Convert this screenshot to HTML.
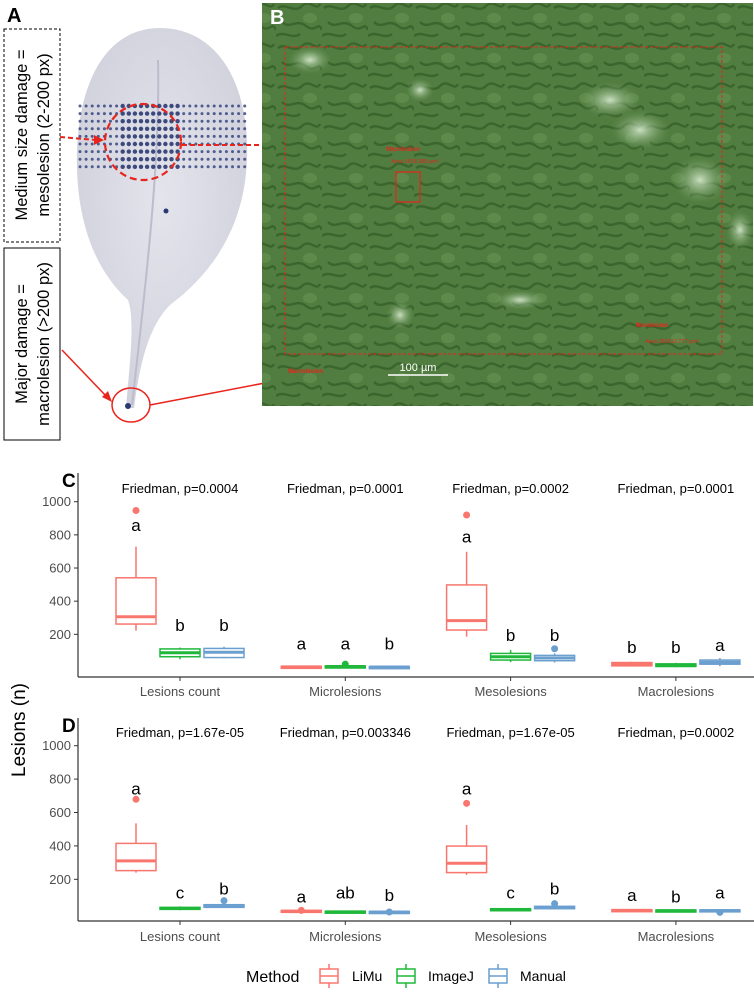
<!DOCTYPE html>
<html><head><meta charset="utf-8">
<style>
html,body{margin:0;padding:0;background:#fff;}
body{width:754px;height:992px;overflow:hidden;font-family:"Liberation Sans",sans-serif;}
svg text{font-family:"Liberation Sans",sans-serif;}
</style></head>
<body>
<svg id="fig" width="754" height="992" viewBox="0 0 754 992" xmlns="http://www.w3.org/2000/svg">
<defs>
  <radialGradient id="leafg" cx="0.5" cy="0.45" r="0.6">
    <stop offset="0" stop-color="#e4e4ec"/><stop offset="1" stop-color="#d0d0dc"/>
  </radialGradient>
  <radialGradient id="hl" cx="0.5" cy="0.5" r="0.5">
    <stop offset="0" stop-color="#d8ead0" stop-opacity="0.9"/><stop offset="1" stop-color="#6e9a5c" stop-opacity="0"/>
  </radialGradient>
  <pattern id="cells" width="46" height="40" patternUnits="userSpaceOnUse">
    <rect width="46" height="40" fill="#557f43"/>
    <path d="M2 8 C10 2,18 14,26 6 S40 12,44 4 M6 22 C14 30,20 18,30 26 S42 20,46 30 M0 36 C8 30,16 40,24 34" stroke="#28501f" stroke-width="2.4" fill="none" opacity="0.85"/>
    <ellipse cx="34" cy="18" rx="7" ry="5" fill="#7aa566" opacity="0.6"/>
  </pattern>
</defs>

<!-- Panel A -->
<g>
  <text x="7" y="22" font-size="20" font-weight="bold">A</text>
  <path d="M160 28 C215 28 250 80 247 160 C244 230 210 275 170 305 C150 325 140 360 134 408 L126 408 C130 360 135 320 128 300 C95 270 75 220 77 150 C80 75 110 28 160 28 Z" fill="url(#leafg)"/>
  <path d="M158 60 C160 150 150 250 132 405" stroke="#bcbccc" stroke-width="2" fill="none"/>
  <g id="dots"></g>
  <circle cx="166" cy="211" r="2.5" fill="#2a3a70"/>
  <circle cx="128" cy="406" r="3" fill="#2a3a70"/>
  <circle cx="143" cy="142" r="38" fill="none" stroke="#e8241c" stroke-width="2.2" stroke-dasharray="7,4"/>
  <ellipse cx="131" cy="405" rx="19" ry="17" fill="none" stroke="#e8241c" stroke-width="1.5"/>
  <rect x="4" y="29" width="56" height="213" fill="#fff" stroke="#000" stroke-width="1" stroke-dasharray="3,2"/>
  <text transform="translate(27,135) rotate(-90)" text-anchor="middle" font-size="16.5">Medium size damage =</text>
  <text transform="translate(49,135) rotate(-90)" text-anchor="middle" font-size="16.5">mesolesion (2-200 px)</text>
  <rect x="4" y="248" width="56" height="192" fill="#fff" stroke="#000" stroke-width="1"/>
  <text transform="translate(27,344) rotate(-90)" text-anchor="middle" font-size="16.5">Major damage =</text>
  <text transform="translate(49,344) rotate(-90)" text-anchor="middle" font-size="16.5">macrolesion (&gt;200 px)</text>
  <line x1="60" y1="137" x2="96" y2="140" stroke="#e8241c" stroke-width="2" stroke-dasharray="5,3"/>
  <polygon points="104,140 94,135 94,145" fill="#e8241c"/>
  <line x1="182" y1="145" x2="305" y2="145" stroke="#e8241c" stroke-width="2" stroke-dasharray="5,3"/>
  <polygon points="315,145 304,140 304,150" fill="#e8241c"/>
  <line x1="62" y1="350" x2="107" y2="397" stroke="#e8241c" stroke-width="1.5"/>
  <polygon points="112,402 102,397 108,391" fill="#e8241c"/>
  <line x1="150" y1="405" x2="270" y2="382" stroke="#e8241c" stroke-width="1.5"/>
  <polygon points="279,380 268,377 270,387" fill="#e8241c"/>
</g>

<!-- Panel B -->
<g>
  <rect x="262" y="3" width="491" height="403" fill="url(#cells)"/>
  <rect x="262" y="3" width="491" height="403" fill="#4a7a3b" opacity="0.4"/>
  <ellipse cx="310" cy="60" rx="22" ry="14" fill="url(#hl)"/>
  <ellipse cx="420" cy="90" rx="14" ry="12" fill="url(#hl)"/>
  <ellipse cx="640" cy="130" rx="30" ry="20" fill="url(#hl)"/>
  <ellipse cx="700" cy="180" rx="28" ry="24" fill="url(#hl)"/>
  <ellipse cx="520" cy="300" rx="26" ry="10" fill="url(#hl)"/>
  <ellipse cx="400" cy="315" rx="14" ry="14" fill="url(#hl)"/>
  <ellipse cx="610" cy="100" rx="30" ry="18" fill="url(#hl)"/>
  <ellipse cx="740" cy="230" rx="14" ry="20" fill="url(#hl)"/>
  <text x="270" y="24" font-size="20" font-weight="bold" fill="#fff">B</text>
  <rect x="285" y="47" width="437" height="307" fill="none" stroke="#e8241c" stroke-width="1" stroke-dasharray="3,2"/>
  <rect x="396" y="172" width="24" height="30" fill="none" stroke="#e8241c" stroke-width="1.2"/>
  <text x="403" y="151" font-size="6" font-weight="bold" fill="#e8241c" text-anchor="middle">Microlesion</text>
  <text x="415" y="163" font-size="5.5" fill="#e8241c" text-anchor="middle">Area 1818.389 µm²</text>
  <text x="652" y="327" font-size="6" font-weight="bold" fill="#e8241c" text-anchor="middle">Mesolesion</text>
  <text x="672" y="343" font-size="5.5" fill="#e8241c" text-anchor="middle">Area 360612.777 µm²</text>
  <text x="288" y="373" font-size="6" font-weight="bold" fill="#e8241c">Macrolesion</text>
  <line x1="388" y1="375" x2="448" y2="375" stroke="#fff" stroke-width="1.5"/>
  <text x="418" y="371" font-size="11" fill="#fff" text-anchor="middle">100 µm</text>
</g>

<g id="charts"></g>

<text transform="translate(25,730) rotate(-90)" text-anchor="middle" font-size="19">Lesions (n)</text>

<g id="legend">
  <text x="246" y="982" font-size="16">Method</text>
</g>
</svg>

<script>
// ---- data ----
const categories = ["Lesions count", "Microlesions", "Mesolesions", "Macrolesions"];
const methods = ["LiMu", "ImageJ", "Manual"];
const colors = ["#f8766d", "#1fb83a", "#6a9fcf"];
const yTicks = [200, 400, 600, 800, 1000];
const pvalsC = ["Friedman, p=0.0004", "Friedman, p=0.0001", "Friedman, p=0.0002", "Friedman, p=0.0001"];
const pvalsD = ["Friedman, p=1.67e-05", "Friedman, p=0.003346", "Friedman, p=1.67e-05", "Friedman, p=0.0002"];
// box stats [lo, q1, median, q3, hi], order: category x method
const boxesC = [
  [222, 262, 306, 541, 729], [50, 65, 89, 112, 120], [55, 60, 92, 115, 125],
  [0, 2, 4, 7, 10], [0, 3, 6, 9, 14], [0, 1, 3, 5, 8],
  [186, 226, 283, 498, 698], [33, 45, 65, 85, 105], [30, 41, 57, 73, 85],
  [5, 10, 20, 30, 35], [2, 6, 15, 22, 28], [8, 20, 32, 45, 57]
];
const outliersC = [[947], [], [], [], [20], [], [920], [], [113], [], [], []];
const lettersC = ["a","b","b","a","a","b","a","b","b","b","b","a"];
const letterYC = [860, 256, 256, 146, 146, 146, 789, 196, 196, 125, 125, 135];
const boxesD = [
  [240, 252, 310, 415, 535], [15, 20, 25, 32, 38], [28, 32, 40, 48, 52],
  [0, 3, 8, 14, 18], [0, 2, 5, 9, 12], [0, 1, 4, 7, 10],
  [226, 240, 296, 399, 525], [8, 12, 17, 24, 28], [20, 24, 32, 38, 42],
  [6, 9, 14, 18, 22], [5, 8, 12, 16, 20], [4, 7, 12, 17, 20]
];
const outliersD = [[679], [], [72], [14], [], [4], [655], [], [54], [], [], [2]];
const lettersD = ["a","c","b","a","ab","b","a","c","b","a","b","a"];
const letterYD = [745, 120, 146, 96, 120, 106, 745, 120, 146, 106, 96, 120];

const NS = "http://www.w3.org/2000/svg";
function mk(tag, attrs, parent) {
  const e = document.createElementNS(NS, tag);
  for (const k in attrs) e.setAttribute(k, attrs[k]);
  parent.appendChild(e);
  return e;
}

// leaf stain dots (decorative)
const dg = document.getElementById('dots');
for (let r = 0; r < 9; r++) {
  for (let c = 0; c < 28; c++) {
    const x = 80 + c * 6.1, y = 106 + r * 7.6;
    const near = Math.abs(x - 150) < 30;
    const rad = near ? 2.2 : 1.5;
    const d = mk('circle', {cx: x, cy: y, r: rad, fill: near ? '#1e2f6a' : '#35467e', opacity: 0.85}, dg);
    
    
  }
}

function drawPanel(cfg) {
  const g = mk('g', {}, document.getElementById('charts'));
  
  
  const yScale = v => cfg.y0 - v * cfg.ppu;
  const xCat = i => 180 + i * 165.3;
  const dodge = 44, bw = 40;
  const pl = mk('text', {x: 62, y: cfg.top + 14, 'font-size': 19, 'font-weight': 'bold'}, g);
  pl.textContent = cfg.id.toUpperCase();
  
  
  const ya = mk('line', {x1: 78, y1: cfg.top, x2: 78, y2: cfg.axisY, stroke: '#333', 'stroke-width': 1.2}, g);
  
  
  const xa = mk('line', {x1: 78, y1: cfg.axisY, x2: 754, y2: cfg.axisY, stroke: '#333', 'stroke-width': 1.2}, g);
  
  
  yTicks.forEach(t => {
    const y = yScale(t);
    mk('line', {x1: 74, y1: y, x2: 78, y2: y, stroke: '#333', 'stroke-width': 1}, g);
    const tl = mk('text', {x: 71, y: y + 4.5, 'font-size': 13, fill: '#4d4d4d', 'text-anchor': 'end'}, g);
    tl.textContent = t;
    
    
  });
  categories.forEach((c, i) => {
    const x = xCat(i);
    mk('line', {x1: x, y1: cfg.axisY, x2: x, y2: cfg.axisY + 4, stroke: '#333', 'stroke-width': 1}, g);
    const cl = mk('text', {x: x, y: cfg.catY, 'font-size': 13, fill: '#4d4d4d', 'text-anchor': 'middle'}, g);
    cl.textContent = c;
    
    
    const pt = mk('text', {x: x, y: cfg.pY, 'font-size': 13, 'text-anchor': 'middle'}, g);
    pt.textContent = cfg.pvals[i];
    
    
    methods.forEach((m, j) => {
      const k = i * 3 + j;
      const s = cfg.boxes[k];
      const cx = x + (j - 1) * dodge;
      const col = colors[j];
      const bg = mk('g', {}, g);
      
      
      mk('line', {x1: cx, y1: yScale(s[0]), x2: cx, y2: yScale(s[1]), stroke: col, 'stroke-width': 1.5}, bg);
      mk('line', {x1: cx, y1: yScale(s[3]), x2: cx, y2: yScale(s[4]), stroke: col, 'stroke-width': 1.5}, bg);
      const h = Math.max(yScale(s[1]) - yScale(s[3]), 2);
      mk('rect', {x: cx - bw / 2, y: yScale(s[3]), width: bw, height: h, fill: '#fff', stroke: col, 'stroke-width': 1.5}, bg);
      mk('line', {x1: cx - bw / 2, y1: yScale(s[2]), x2: cx + bw / 2, y2: yScale(s[2]), stroke: col, 'stroke-width': 3}, bg);
      cfg.outliers[k].forEach(o => {
        const oc = mk('circle', {cx: cx, cy: yScale(o), r: 3.5, fill: col}, bg);
        
        
      });
      const lt = mk('text', {x: cx, y: yScale(cfg.letterY[k]) + 6, 'font-size': 17, 'text-anchor': 'middle'}, bg);
      lt.textContent = cfg.letters[k];
      
      
    });
  });
}

drawPanel({id: 'c', y0: 667.5, ppu: 0.1658, top: 473, axisY: 677, catY: 696, pY: 493,
  boxes: boxesC, outliers: outliersC, letters: lettersC, letterY: letterYC, pvals: pvalsC});
drawPanel({id: 'd', y0: 912.7, ppu: 0.167, top: 718, axisY: 921, catY: 941, pY: 737,
  boxes: boxesD, outliers: outliersD, letters: lettersD, letterY: letterYD, pvals: pvalsD});

// legend
const lg = document.getElementById('legend');
const keyX = [318, 395, 487], txtX = [352, 428, 520];
methods.forEach((m, j) => {
  const kg = mk('g', {}, lg);
  
  
  const cx = keyX[j] + 11;
  mk('line', {x1: cx, y1: 964, x2: cx, y2: 988, stroke: colors[j], 'stroke-width': 1.5}, kg);
  mk('rect', {x: keyX[j] + 2, y: 969, width: 18, height: 14, fill: '#fff', stroke: colors[j], 'stroke-width': 1.5}, kg);
  mk('line', {x1: keyX[j] + 2, y1: 976, x2: keyX[j] + 20, y2: 976, stroke: colors[j], 'stroke-width': 1.5}, kg);
  const t = mk('text', {x: txtX[j], y: 981, 'font-size': 14}, kg);
  t.textContent = m;
});
</script>
</body></html>
